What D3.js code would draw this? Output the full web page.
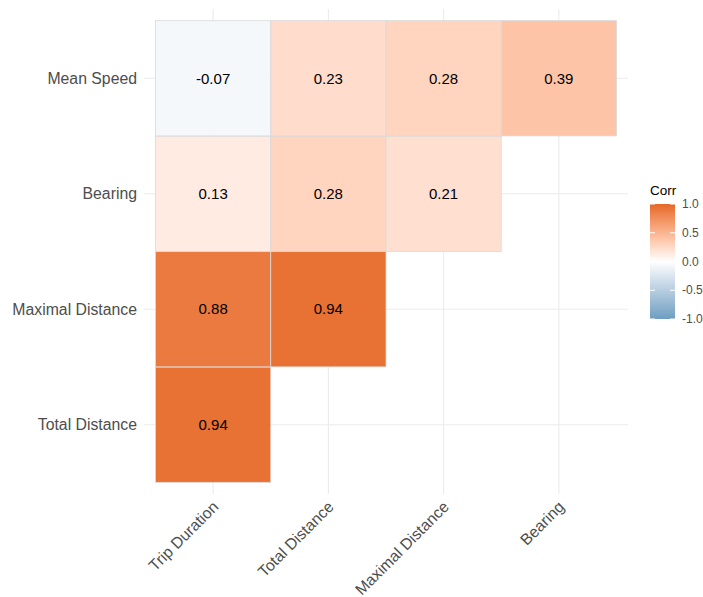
<!DOCTYPE html>
<html>
<head>
<meta charset="utf-8">
<script src="https://cdn.jsdelivr.net/npm/d3@7"></script>
<style>
  body { margin: 0; background: #fff; }
  text { font-family: "Liberation Sans", Arial, sans-serif; }
</style>
</head>
<body>
<script>
// correlation matrix (lower triangle, ggcorrplot style)
var xVars = ["Trip Duration", "Total Distance", "Maximal Distance", "Bearing"];
var yVars = ["Total Distance", "Maximal Distance", "Bearing", "Mean Speed"];
var cells = [
  { x: "Trip Duration", y: "Total Distance", v: 0.94 },
  { x: "Trip Duration", y: "Maximal Distance", v: 0.88 },
  { x: "Total Distance", y: "Maximal Distance", v: 0.94 },
  { x: "Trip Duration", y: "Bearing", v: 0.13 },
  { x: "Total Distance", y: "Bearing", v: 0.28 },
  { x: "Maximal Distance", y: "Bearing", v: 0.21 },
  { x: "Trip Duration", y: "Mean Speed", v: -0.07 },
  { x: "Total Distance", y: "Mean Speed", v: 0.23 },
  { x: "Maximal Distance", y: "Mean Speed", v: 0.28 },
  { x: "Bearing", y: "Mean Speed", v: 0.39 }
];
var legendTicks = [1.0, 0.5, 0.0, -0.5, -1.0];

var width = 703, height = 597;
var panel = { left: 144, right: 628, top: 9, bottom: 494 };

var svg = d3.select("body").append("svg")
  .attr("width", width)
  .attr("height", height);

// discrete scales with ggplot-like 0.6 expansion
var x = d3.scalePoint().domain(xVars).range([panel.left, panel.right]).padding(0.6);
var y = d3.scalePoint().domain(yVars).range([panel.bottom, panel.top]).padding(0.6);
var step = x.step();

var color = d3.scaleLinear()
  .domain([-1, 0, 1])
  .range(["#6D9EC1", "white", "#E46726"])
  .interpolate(d3.interpolateLab);

// plain hyphen for negatives, like R
var fmt2 = v => d3.format(".2f")(v).replace("\u2212", "-");
var fmt1 = v => d3.format(".1f")(v).replace("\u2212", "-");

// grid
svg.append("g").selectAll("line.vx")
  .data(xVars).join("line")
  .attr("x1", d => x(d)).attr("x2", d => x(d))
  .attr("y1", panel.top).attr("y2", panel.bottom)
  .attr("stroke", "#ebebeb").attr("stroke-width", 1.1);
svg.append("g").selectAll("line.hy")
  .data(yVars).join("line")
  .attr("y1", d => y(d)).attr("y2", d => y(d))
  .attr("x1", panel.left).attr("x2", panel.right)
  .attr("stroke", "#ebebeb").attr("stroke-width", 1.1);

// tiles
svg.append("g").selectAll("rect")
  .data(cells).join("rect")
  .attr("x", d => x(d.x) - step / 2)
  .attr("y", d => y(d.y) - step / 2)
  .attr("width", step)
  .attr("height", step)
  .attr("fill", d => color(d.v))
  .attr("stroke", "#d9d9d9")
  .attr("stroke-width", 0.8);

svg.append("g").selectAll("text")
  .data(cells).join("text")
  .attr("x", d => x(d.x))
  .attr("y", d => y(d.y))
  .attr("dy", "0.35em")
  .attr("text-anchor", "middle")
  .attr("font-size", 15)
  .attr("fill", "#000")
  .text(d => fmt2(d.v));

// axes
var xAxis = svg.append("g")
  .attr("transform", "translate(0," + panel.bottom + ")")
  .call(d3.axisBottom(x).tickSize(0).tickPadding(0));
xAxis.select(".domain").remove();
xAxis.selectAll("text")
  .attr("font-size", 15.8)
  .attr("fill", "#4d4d4d")
  .attr("text-anchor", "end")
  .attr("dy", "0.7em")
  .attr("transform", "translate(-2,6) rotate(-45)");

var yAxis = svg.append("g")
  .attr("transform", "translate(" + panel.left + ",0)")
  .call(d3.axisLeft(y).tickSize(0).tickPadding(7));
yAxis.select(".domain").remove();
yAxis.selectAll("text")
  .attr("font-size", 15.8)
  .attr("fill", "#4d4d4d");

// legend
var lg = { x: 650, top: 204, w: 25, h: 115 };
var legY = d3.scaleLinear().domain([-1, 1]).range([lg.top + lg.h, lg.top]);
var defs = svg.append("defs");
var grad = defs.append("linearGradient")
  .attr("id", "corrGrad")
  .attr("x1", 0).attr("y1", 1).attr("x2", 0).attr("y2", 0);
grad.selectAll("stop")
  .data(d3.range(0, 21))
  .join("stop")
  .attr("offset", d => d / 20)
  .attr("stop-color", d => color(-1 + d / 10));

svg.append("text")
  .attr("x", lg.x)
  .attr("y", lg.top - 9)
  .attr("font-size", 13.5)
  .attr("fill", "#000")
  .text("Corr");

svg.append("rect")
  .attr("x", lg.x).attr("y", lg.top)
  .attr("width", lg.w).attr("height", lg.h)
  .attr("fill", "url(#corrGrad)");

var lt = svg.append("g");
lt.selectAll("line.l")
  .data(legendTicks).join("line")
  .attr("x1", lg.x).attr("x2", lg.x + 5)
  .attr("y1", d => legY(d)).attr("y2", d => legY(d))
  .attr("stroke", "white").attr("stroke-width", 1);
lt.selectAll("line.r")
  .data(legendTicks).join("line")
  .attr("x1", lg.x + lg.w - 5).attr("x2", lg.x + lg.w)
  .attr("y1", d => legY(d)).attr("y2", d => legY(d))
  .attr("stroke", "white").attr("stroke-width", 1);
lt.selectAll("text")
  .data(legendTicks).join("text")
  .attr("x", lg.x + lg.w + 7)
  .attr("y", d => legY(d))
  .attr("dy", "0.35em")
  .attr("font-size", 12)
  .attr("fill", "#4d4d4d")
  .text(d => fmt1(d));
</script>
</body>
</html>
